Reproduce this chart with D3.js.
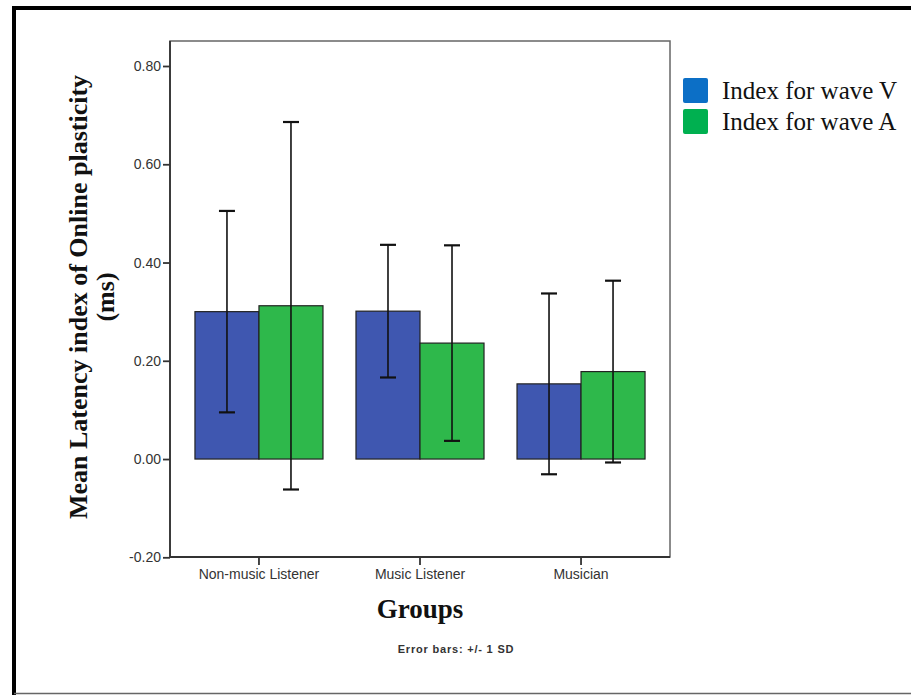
<!DOCTYPE html>
<html>
<head>
<meta charset="utf-8">
<script src="https://cdn.jsdelivr.net/npm/d3@7"></script>
<style>
  html, body { margin: 0; padding: 0; background: #fff; }
  svg { display: block; }
</style>
</head>
<body>
<script>
// Groups and series
const groups = ["Non-music Listener", "Music Listener", "Musician"];
const seriesNames = ["Index for wave V", "Index for wave A"];
const seriesColors = ["#3f57b0", "#2eb84b"];
const legendColors = ["#0c6fc6", "#00b050"];

// Means per group for each index
const waveVMeans = [0.300, 0.301, 0.153];
const waveAMeans = [0.312, 0.236, 0.178];
// Standard deviations (error bars are +/- 1 SD)
const waveVSD = [0.205, 0.135, 0.184];
const waveASD = [0.374, 0.199, 0.185];

const yTicks = [-0.20, 0.00, 0.20, 0.40, 0.60, 0.80];

const W = 911, H = 695;
const plot = { left: 170, right: 670, top: 41, bottom: 557 };

const svg = d3.select("body").append("svg")
  .attr("width", W).attr("height", H);

// Outer frame of the figure
svg.append("rect").attr("x", 0).attr("y", 0).attr("width", W).attr("height", H).attr("fill", "#fff");
svg.append("line").attr("x1", 12).attr("x2", W).attr("y1", 8).attr("y2", 8)
  .attr("stroke", "#000").attr("stroke-width", 4);
svg.append("line").attr("x1", 14).attr("x2", 14).attr("y1", 6).attr("y2", H)
  .attr("stroke", "#000").attr("stroke-width", 4);
svg.append("line").attr("x1", 14).attr("x2", W).attr("y1", 693.5).attr("y2", 693.5)
  .attr("stroke", "#666").attr("stroke-width", 1.5);

const y = d3.scaleLinear().domain([-0.2, 0.8]).range([557.3, 66]);

const x0 = d3.scaleBand().domain(groups)
  .range([plot.left, plot.right])
  .paddingInner(0.205).paddingOuter(0.155);
const x1 = d3.scaleBand().domain(seriesNames).range([0, x0.bandwidth()]);

// Plot frame
svg.append("rect")
  .attr("x", plot.left).attr("y", plot.top)
  .attr("width", plot.right - plot.left).attr("height", plot.bottom - plot.top)
  .attr("fill", "none").attr("stroke", "#666").attr("stroke-width", 1.5);

const data = groups.map((g, i) => ({
  group: g,
  values: [
    { series: seriesNames[0], mean: waveVMeans[i], sd: waveVSD[i], color: seriesColors[0] },
    { series: seriesNames[1], mean: waveAMeans[i], sd: waveASD[i], color: seriesColors[1] }
  ]
}));

const gGroup = svg.selectAll("g.grp").data(data).join("g")
  .attr("class", "grp")
  .attr("transform", d => `translate(${x0(d.group)},0)`);

// Bars
gGroup.selectAll("rect").data(d => d.values).join("rect")
  .attr("x", d => x1(d.series))
  .attr("width", x1.bandwidth())
  .attr("y", d => y(Math.max(0, d.mean)))
  .attr("height", d => Math.abs(y(d.mean) - y(0)))
  .attr("fill", d => d.color)
  .attr("stroke", "#222").attr("stroke-width", 1.2);

// Error bars
const capHalf = 8;
const eb = gGroup.selectAll("g.eb").data(d => d.values).join("g").attr("class", "eb");
eb.append("line")
  .attr("x1", d => x1(d.series) + x1.bandwidth() / 2)
  .attr("x2", d => x1(d.series) + x1.bandwidth() / 2)
  .attr("y1", d => y(d.mean + d.sd)).attr("y2", d => y(d.mean - d.sd))
  .attr("stroke", "#111").attr("stroke-width", 1.6);
eb.append("line")
  .attr("x1", d => x1(d.series) + x1.bandwidth() / 2 - capHalf)
  .attr("x2", d => x1(d.series) + x1.bandwidth() / 2 + capHalf)
  .attr("y1", d => y(d.mean + d.sd)).attr("y2", d => y(d.mean + d.sd))
  .attr("stroke", "#111").attr("stroke-width", 2.2);
eb.append("line")
  .attr("x1", d => x1(d.series) + x1.bandwidth() / 2 - capHalf)
  .attr("x2", d => x1(d.series) + x1.bandwidth() / 2 + capHalf)
  .attr("y1", d => y(d.mean - d.sd)).attr("y2", d => y(d.mean - d.sd))
  .attr("stroke", "#111").attr("stroke-width", 2.2);

// Y axis (hyphen-minus for negatives)
const fmt = d3.format(".2f");
const yAxis = d3.axisLeft(y).tickValues(yTicks).tickSize(7).tickPadding(2)
  .tickFormat(d => fmt(d).replace("\u2212", "-"));
const gy = svg.append("g").attr("transform", `translate(${plot.left},0)`).call(yAxis);
gy.select(".domain").attr("d", `M0,${plot.top}V${plot.bottom}`).attr("stroke", "#333").attr("stroke-width", 1.8);
gy.selectAll(".tick line").attr("stroke", "#333").attr("stroke-width", 1.8);
gy.selectAll(".tick text").attr("font-family", "Liberation Sans, Arial, sans-serif")
  .attr("font-size", 14).attr("fill", "#333");

// X axis
const xAxis = d3.axisBottom(x0).tickSize(8).tickPadding(4);
const gx = svg.append("g").attr("transform", `translate(0,${plot.bottom})`).call(xAxis);
gx.select(".domain").attr("d", `M${plot.left},0H${plot.right}`).attr("stroke", "#333").attr("stroke-width", 1.8);
gx.selectAll(".tick line").attr("stroke", "#333").attr("stroke-width", 1.8);
gx.selectAll(".tick text").attr("font-family", "Liberation Sans, Arial, sans-serif")
  .attr("font-size", 14).attr("fill", "#333");

// Axis titles
const yTitle = svg.append("text")
  .attr("transform", `translate(0,297) rotate(-90)`)
  .attr("text-anchor", "middle")
  .attr("font-family", "Liberation Serif, Times New Roman, serif")
  .attr("font-weight", "bold").attr("font-size", 26).attr("fill", "#111");
yTitle.append("tspan").attr("x", 0).attr("y", 87).text("Mean Latency index of Online plasticity");
yTitle.append("tspan").attr("x", 0).attr("y", 114).text("(ms)");

svg.append("text")
  .attr("x", (plot.left + plot.right) / 2).attr("y", 618)
  .attr("text-anchor", "middle")
  .attr("font-family", "Liberation Serif, Times New Roman, serif")
  .attr("font-weight", "bold").attr("font-size", 27).attr("fill", "#111")
  .text("Groups");

svg.append("text")
  .attr("x", 456).attr("y", 653)
  .attr("text-anchor", "middle")
  .attr("font-family", "Liberation Sans, Arial, sans-serif")
  .attr("font-weight", "bold").attr("font-size", 11).attr("letter-spacing", 0.8)
  .attr("fill", "#333")
  .text("Error bars: +/- 1 SD");

// Legend
const legend = svg.append("g").attr("transform", "translate(683,78)");
const li = legend.selectAll("g").data(seriesNames).join("g")
  .attr("transform", (d, i) => `translate(0,${i * 31})`);
li.append("rect").attr("width", 25).attr("height", 25).attr("rx", 2)
  .attr("fill", (d, i) => legendColors[i]);
li.append("text").attr("x", 39).attr("y", 20.5)
  .attr("font-family", "Liberation Serif, Times New Roman, serif")
  .attr("font-size", 25).attr("fill", "#111")
  .text(d => d);
</script>
</body>
</html>
